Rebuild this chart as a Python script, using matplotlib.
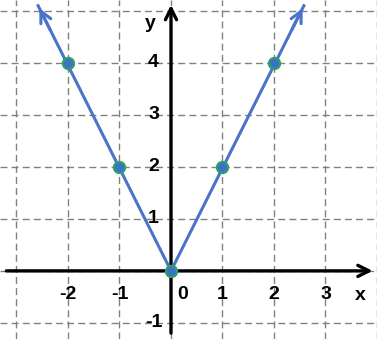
import matplotlib.pyplot as plt

# points on y = |2x|
pts_x = [-2, -1, 0, 1, 2]
pts_y = [4, 2, 0, 2, 4]

# the two rays, ending in arrow heads
ray_x = [-2.58, 0, 2.58]
ray_y = [5.1, 0, 5.1]

x_ticks = [-2, -1, 0, 1, 2, 3]
y_ticks = [-1, 1, 2, 3, 4]

fig = plt.figure(figsize=(3.77, 3.39), dpi=100)
ax = fig.add_axes([0, 0, 1, 1])
ax.set_xlim(-3.32, 4.0)
ax.set_ylim(-1.31, 5.21)
ax.axis('off')

# dashed grid
for gx in range(-3, 5):
    ax.axvline(gx, color='#808080', lw=1, ls=(0, (5, 3)), zorder=1)
for gy in range(-1, 6):
    ax.axhline(gy, color='#808080', lw=1, ls=(0, (5, 3)), zorder=1)

# axes with arrows
ax.annotate('', xy=(3.97, 0), xytext=(-3.25, 0),
            arrowprops=dict(arrowstyle='->,head_length=0.8,head_width=0.4',
                            color='black', lw=2.4), zorder=3)
ax.annotate('', xy=(0, 5.17), xytext=(0, -1.25),
            arrowprops=dict(arrowstyle='->,head_length=0.8,head_width=0.4',
                            color='black', lw=2.4), zorder=3)

# the graph
ax.plot(ray_x[1:], ray_y[1:], color='#4a74c9', lw=2.2, zorder=4)
ax.plot(ray_x[:2], ray_y[:2], color='#4a74c9', lw=2.2, zorder=4)
for i in (0, 2):
    ax.annotate('', xy=(ray_x[i], ray_y[i]),
                xytext=(ray_x[i] * 0.9, ray_y[i] * 0.9),
                arrowprops=dict(arrowstyle='->,head_length=0.8,head_width=0.4',
                                color='#4a74c9', lw=2.2), zorder=4)
ax.plot(pts_x, pts_y, 'o', ms=8, color='#3f6fc8', mec='#2aa06a', mew=1.6,
        zorder=5)

font = dict(family='Liberation Sans', weight='bold', fontsize=14)
for t in x_ticks:
    xt = t + 0.23 if t == 0 else t
    ax.text(xt, -0.45, str(t), ha='center', va='center', **font)
for t in y_ticks:
    ax.text(-0.34, t, str(t), ha='center', va='center', **font)
ax.text(3.68, -0.48, 'x', ha='center', va='center', **font)
ax.text(-0.4, 4.75, 'y', ha='center', va='center', **font)

fig.savefig('out.png', dpi=100)
